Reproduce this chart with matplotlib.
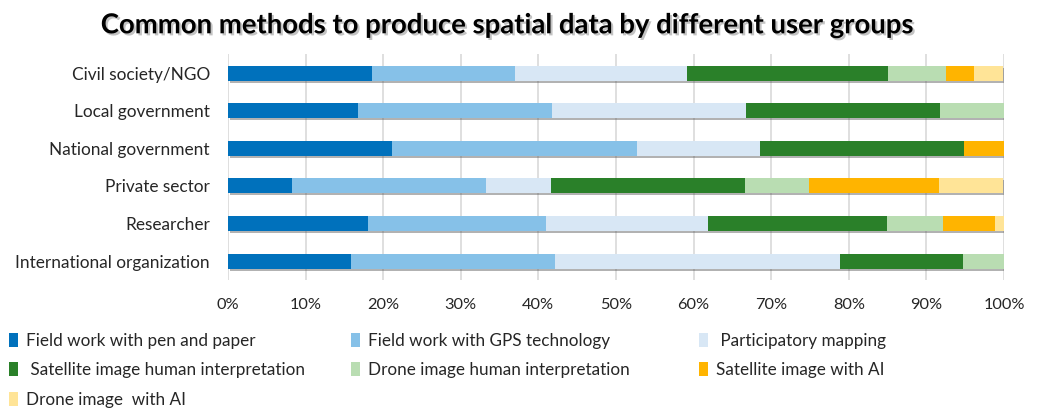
import matplotlib
matplotlib.use("Agg")
import matplotlib.pyplot as plt
import matplotlib.patheffects as pe
from matplotlib.patches import Patch

groups = ["Civil society/NGO", "Local government", "National government",
          "Private sector", "Researcher", "International organization"]

methods = ["Field work with pen and paper", "Field work with GPS technology",
           " Participatory mapping", " Satellite image human interpretation",
           "Drone image human interpretation", "Satellite image with AI",
           "Drone image  with AI"]

# percent of each group, one list per method (same order as groups)
pen_paper = [18.5, 16.7, 21.1, 8.3, 18.0, 15.8]
gps = [18.5, 25.0, 31.6, 25.0, 23.0, 26.3]
participatory = [22.2, 25.0, 15.8, 8.3, 20.8, 36.8]
sat_human = [25.9, 25.0, 26.3, 25.0, 23.1, 15.8]
drone_human = [7.4, 8.3, 0.0, 8.3, 7.3, 5.3]
sat_ai = [3.7, 0.0, 5.3, 16.7, 6.6, 0.0]
drone_ai = [3.7, 0.0, 0.0, 8.3, 1.2, 0.0]

series = [pen_paper, gps, participatory, sat_human, drone_human, sat_ai, drone_ai]
colors = ["#0071BC", "#86C1E8", "#D8E7F5", "#2A8029", "#B9DDB2", "#FFB400", "#FFE497"]

plt.rcParams["font.family"] = ["Lato", "DejaVu Sans"]

fig = plt.figure(figsize=(10.39, 4.08), dpi=100)
ax = fig.add_axes([0.2194, 0.314, 0.9663 - 0.2194, 0.553])

shadow = [pe.SimplePatchShadow(offset=(1.2, -1.5), shadow_rgbFace="#555555", alpha=0.45), pe.Normal()]

ypos = list(range(len(groups)))
left = [0.0] * len(groups)
for vals, col in zip(series, colors):
    bars = ax.barh(ypos, vals, left=left, height=0.4, color=col, zorder=3)
    for b in bars:
        b.set_path_effects(shadow)
    left = [l + v for l, v in zip(left, vals)]

ax.set_xlim(0, 100)
ax.set_ylim(len(groups) - 0.5, -0.5)
ax.set_yticks(ypos)
ax.set_yticklabels(groups, fontsize=12.4, color="#262626")
ax.set_xticks(range(0, 101, 10))
ax.set_xticklabels([f"{v}%" for v in range(0, 101, 10)], fontsize=11.8, color="#262626")
ax.tick_params(length=0)
ax.tick_params(axis="y", pad=13)
ax.tick_params(axis="x", pad=13)
ax.grid(axis="x", color="#D9D9D9", linewidth=1.2, zorder=0)
for s in ax.spines.values():
    s.set_visible(False)

fig.text(0.487, 0.938, "Common methods to produce spatial data by different user groups",
         ha="center", va="center", fontsize=19.8, fontweight="bold",
         path_effects=[pe.withSimplePatchShadow(offset=(1.5, -1.5), shadow_rgbFace="#888888", alpha=0.5)])

# legend laid out in three columns like the original
handles = [Patch(facecolor=c, edgecolor="none") for c in colors]
columns = [([0, 3, 6], 0.009), ([1, 4], 0.338), ([2, 5], 0.673)]
for idx, xpos in columns:
    leg = fig.legend([handles[i] for i in idx], [methods[i] for i in idx],
                     loc="upper left", bbox_to_anchor=(xpos, 0.185), frameon=False,
                     fontsize=12.3, handlelength=0.5, handleheight=0.9, handletextpad=0.5,
                     labelspacing=0.8, borderaxespad=0, borderpad=0)
    for t in leg.get_texts():
        t.set_color("#262626")

fig.savefig("out.png", dpi=100)
